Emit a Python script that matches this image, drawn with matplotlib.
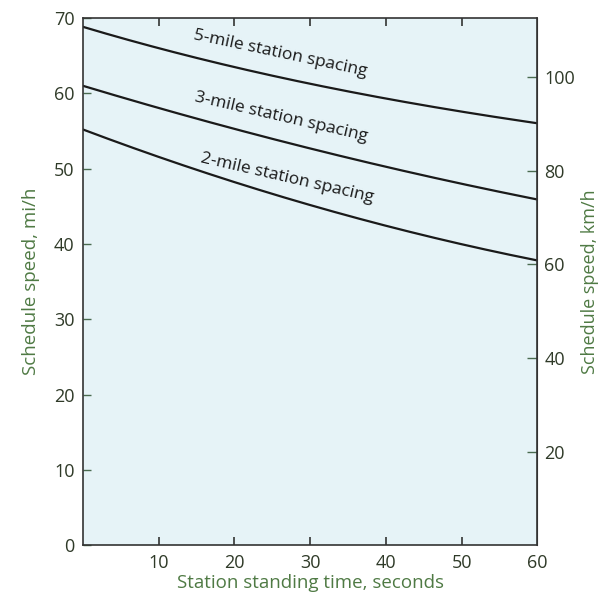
import matplotlib
matplotlib.use("Agg")
import matplotlib.pyplot as plt
import numpy as np

# station standing time, seconds
standing_time = [0, 10, 20, 30, 40, 50, 60]
# schedule speed, mi/h
speed_5mile = [68.8, 66.0, 63.5, 61.2, 59.3, 57.6, 56.0]
speed_3mile = [61.0, 58.0, 55.3, 52.7, 50.2, 48.0, 45.9]
speed_2mile = [55.2, 51.5, 48.3, 45.1, 42.4, 40.0, 37.8]
curve_labels = ["5-mile station spacing", "3-mile station spacing", "2-mile station spacing"]

x_ticks = [10, 20, 30, 40, 50, 60]
y_ticks = [0, 10, 20, 30, 40, 50, 60, 70]
kmh_ticks = [20, 40, 60, 80, 100]

MI_TO_KM = 1.609

plt.rcParams['font.family'] = ['Open Sans', 'DejaVu Sans']
tick_col = "#2f3a28"
label_col = "#4f7a44"

fig = plt.figure(figsize=(6.01, 5.96), dpi=100)
ax = fig.add_axes([0.138, 0.085, 0.756, 0.885])
ax.set_facecolor("#e6f3f7")

# smooth curves through the read points
t_fine = np.linspace(0, 60, 200)
for speeds in (speed_5mile, speed_3mile, speed_2mile):
    coef = np.polyfit(standing_time, speeds, 3)
    ax.plot(t_fine, np.polyval(coef, t_fine), color="#1a1a1a", lw=1.6)

# labels along the curves
label_pos = [(26.1, 65.3, -12), (26.1, 56.8, -13), (27.0, 48.8, -13)]
for text, (tx, ty, rot) in zip(curve_labels, label_pos):
    ax.text(tx, ty, text, rotation=rot, ha="center", va="center",
            fontsize=12.5, color="#1a1a1a", rotation_mode="anchor")

ax.set_xlim(0, 60)
ax.set_ylim(0, 70)
ax.set_xticks(x_ticks)
ax.set_yticks(y_ticks)
ax.tick_params(axis="x", direction="in", length=6, width=1.2, top=True,
               labelsize=13, labelcolor=tick_col, color="#333333", pad=6)
ax.tick_params(axis="y", direction="in", length=6, width=1.0,
               labelsize=13, labelcolor=tick_col, color="#4a6b50", pad=6)
# no tick mark at the 60 corner
ax.xaxis.get_major_ticks()[-1].tick1line.set_visible(False)
ax.xaxis.get_major_ticks()[-1].tick2line.set_visible(False)
for s in ax.spines.values():
    s.set_color("#333333")
    s.set_linewidth(1.2)

ax.set_xlabel("Station standing time, seconds", fontsize=13.5, color=label_col, labelpad=2)
ax.set_ylabel("Schedule speed, mi/h", fontsize=13.5, color=label_col, labelpad=10)

ax2 = ax.secondary_yaxis("right", functions=(lambda v: v * MI_TO_KM, lambda k: k / MI_TO_KM))
ax2.set_yticks(kmh_ticks)
ax2.tick_params(direction="in", length=7, width=1.0, labelsize=13,
                labelcolor=tick_col, color="#4a6b50", pad=5)
ax2.spines["right"].set_color("#333333")
ax2.set_ylabel("Schedule speed, km/h", fontsize=13, color=label_col, labelpad=4)

fig.savefig("out.png", dpi=100)
